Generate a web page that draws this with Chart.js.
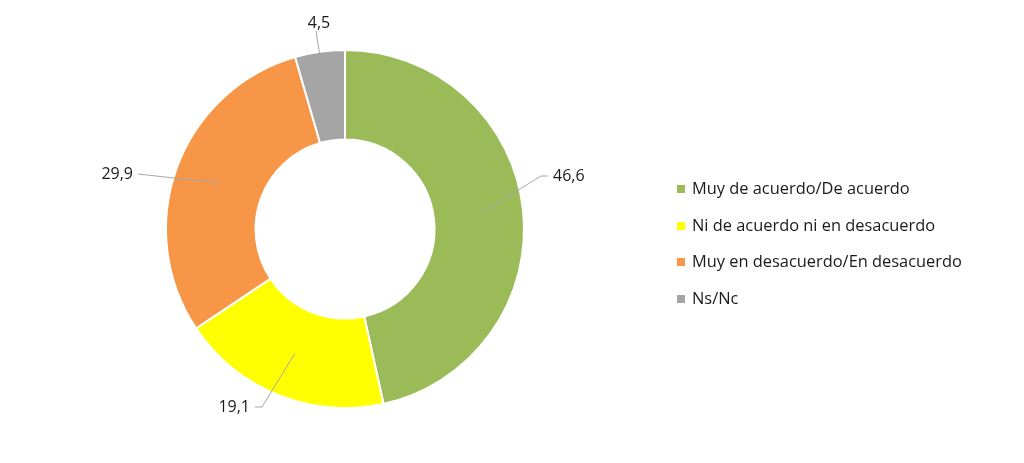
<!DOCTYPE html>
<html>
<head>
<meta charset="utf-8">
<script src="https://cdn.jsdelivr.net/npm/chart.js@4"></script>
<style>
  html, body { margin: 0; padding: 0; background: #fff; }
  .wrap { position: relative; width: 1024px; height: 463px; }
  #legend { position: absolute; left: 677px; top: 177px; font-family: 'Open Sans', sans-serif; font-size: 16.4px; color: #1a1a1a; }
  #legend div { height: 36.5px; display: flex; align-items: flex-start; line-height: 22px; }
  #legend span.box { display: inline-block; width: 8px; height: 8px; margin: 8px 7px 0 0; }
</style>
</head>
<body>
<div class="wrap">
  <canvas id="donut" width="1024" height="463"></canvas>
  <div id="legend"></div>
</div>
<script>
// Datos
const categorias = ['Muy de acuerdo/De acuerdo', 'Ni de acuerdo ni en desacuerdo', 'Muy en desacuerdo/En desacuerdo', 'Ns/Nc'];
const valores = [46.6, 19.1, 29.9, 4.5];
const colores = ['#9bbb59', '#ffff00', '#f79646', '#a5a5a5'];

// codo de la línea guía de cada etiqueta, relativo al centro del anillo
const guias = [
  { dx: 196, dy: -53, tramo: 7, lado: 'der' },
  { dx: -83, dy: 178, tramo: -7, lado: 'izq' },
  { dx: -207, dy: -55, tramo: 0, lado: 'izq' },
  { dx: -29, dy: -198, tramo: 0, lado: 'arriba' }
];

const etiquetas = {
  id: 'etiquetas',
  afterDatasetsDraw(chart) {
    const c = chart.ctx;
    const meta = chart.getDatasetMeta(0);
    c.save();
    c.font = '16px "Open Sans", sans-serif';
    c.fillStyle = '#1a1a1a';
    meta.data.forEach((arc, i) => {
      const p = arc.tooltipPosition();
      const g = guias[i];
      const ex = arc.x + g.dx, ey = arc.y + g.dy;
      c.strokeStyle = '#a6a6a6';
      c.lineWidth = 1;
      c.beginPath();
      c.moveTo(p.x, p.y);
      c.lineTo(ex, ey);
      c.lineTo(ex + g.tramo, ey);
      c.stroke();
      const txt = valores[i].toFixed(1).replace('.', ',');
      if (g.lado === 'der') {
        c.textAlign = 'left'; c.textBaseline = 'middle';
        c.fillText(txt, ex + g.tramo + 5, ey);
      } else if (g.lado === 'izq') {
        c.textAlign = 'right'; c.textBaseline = 'middle';
        c.fillText(txt, ex + g.tramo - 5, ey);
      } else {
        c.textAlign = 'center'; c.textBaseline = 'bottom';
        c.fillText(txt, ex + 3, ey);
      }
    });
    c.restore();
  }
};

new Chart(document.getElementById('donut').getContext('2d'), {
  type: 'doughnut',
  data: {
    labels: categorias,
    datasets: [{
      data: valores,
      backgroundColor: colores,
      borderColor: '#ffffff',
      borderWidth: 2
    }]
  },
  options: {
    responsive: false,
    animation: false,
    cutout: '50%',
    layout: { padding: { left: 165, right: 499, top: 49, bottom: 54 } },
    plugins: {
      legend: { display: false },
      tooltip: { enabled: false }
    }
  },
  plugins: [etiquetas]
});

const leyenda = document.getElementById('legend');
categorias.forEach((cat, i) => {
  const fila = document.createElement('div');
  fila.innerHTML = '<span class="box" style="background:' + colores[i] + '"></span>' + cat;
  leyenda.appendChild(fila);
});
</script>
</body>
</html>
